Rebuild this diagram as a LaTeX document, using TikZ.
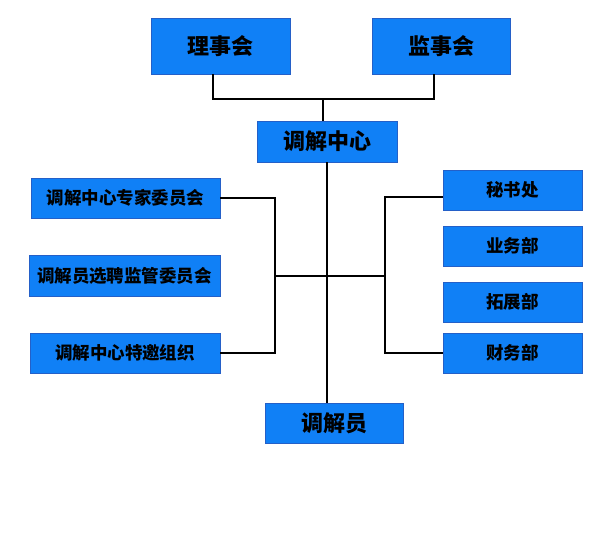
\documentclass[tikz,border=0pt]{standalone}
\usepackage{fontspec}
\newfontfamily\cjk{Noto Sans CJK SC}
\usepackage{tikz}
\definecolor{boxblue}{RGB}{16,128,246}
\definecolor{boxline}{RGB}{36,96,200}

\begin{document}
\begin{tikzpicture}[x=1pt,y=1pt,thick,line width=1.6pt,
 unit/.style={draw=boxline,line width=0.8pt,fill=boxblue,inner sep=0pt,
   font=\cjk\bfseries\fontsize{22}{26}\selectfont},
 small unit/.style={unit,font=\cjk\bfseries\fontsize{17.5}{21}\selectfont}]

  \useasboundingbox (0,0) rectangle (600,-539);

  \node[unit,minimum width=139,minimum height=56] (lsh) at (220.5,-46) {理事会};
  \node[unit,minimum width=138,minimum height=56] (jsh) at (441,-46) {监事会};
  \node[unit,minimum width=140,minimum height=41] (zx) at (327,-141.5) {调解中心};
  \node[unit,minimum width=138,minimum height=40] (tjy) at (334,-423) {调解员};

  \node[small unit,minimum width=189,minimum height=40] (zj) at (125.5,-198) {调解中心专家委员会};
  \node[small unit,minimum width=191,minimum height=41] (xp) at (124.5,-275.5) {调解员选聘监管委员会};
  \node[small unit,minimum width=190,minimum height=40] (ty) at (125,-353) {调解中心特邀组织};

  \foreach \n/\y/\t in {msc/190/秘书处, ywb/246/业务部, tzb/302/拓展部, cwb/353/财务部}
   \node[small unit,minimum width=139,minimum height=40] (\n) at (512.5,-\y) {\t};

  \coordinate (top) at (323,-99);
  \coordinate (lbus) at (275,-276);
  \coordinate (rbus) at (385,-276);

  \draw ([xshift=-7.5pt]lsh.south) |- (top) -| ([xshift=-7pt]jsh.south);
  \draw (top) -- (top |- zx.north);
  \draw (zx.south) -- (zx.south |- tjy.north);
  \draw (zj.east) -| (lbus) |- (ty.east);
  \draw ([yshift=-7pt]msc.west) -| (rbus) |- (cwb.west);
  \draw (lbus) -- (rbus);

\end{tikzpicture}
\end{document}
